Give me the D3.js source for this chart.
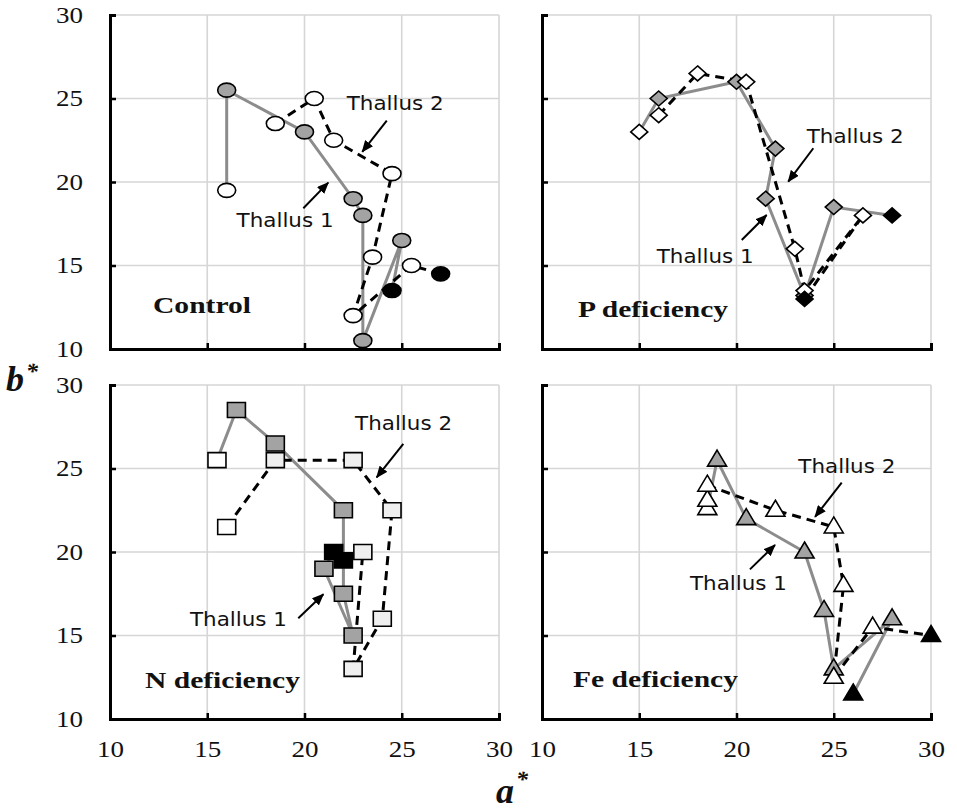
<!DOCTYPE html>
<html><head><meta charset="utf-8">
<script src="https://cdn.jsdelivr.net/npm/d3@7"></script>
<style>body{margin:0;background:#fff}</style></head>
<body><svg id="c" width="957" height="810"></svg>
<script>
// ---------- data ----------
const panelNames = ["Control", "P deficiency", "N deficiency", "Fe deficiency"];
const xTicks = [10, 15, 20, 25, 30];
const yTicks = [10, 15, 20, 25, 30];
const seriesNames = ["Thallus 1", "Thallus 2"];

const controlT1A = [16, 16, 20, 22.5, 23, 23, 25, 24.5];
const controlT1B = [19.5, 25.5, 23, 19, 18, 10.5, 16.5, 13.5];
const controlT2A = [18.5, 20.5, 21.5, 24.5, 23.5, 22.5, 25.5, 27];
const controlT2B = [23.5, 25, 22.5, 20.5, 15.5, 12, 15, 14.5];

const pT1A = [15, 16, 20, 22, 21.5, 23.5, 25, 28];
const pT1B = [23, 25, 26, 22, 19, 13.2, 18.5, 18];
const pT2A = [16, 18, 20.5, 23, 23.5, 26.5, 23.5];
const pT2B = [24, 26.5, 26, 16, 13.5, 18, 13];

const nT1A = [15.5, 16.5, 18.5, 22, 22, 22.5, 21, 21.5];
const nT1B = [25.5, 28.5, 26.5, 22.5, 17.5, 15, 19, 20];
const nT2A = [16, 18.5, 22.5, 24.5, 24, 22.5, 23, 22];
const nT2B = [21.5, 25.5, 25.5, 22.5, 16, 13, 20, 19.5];

const feT1A = [18.5, 19, 20.5, 23.5, 24.5, 25, 28, 26];
const feT1B = [22.6, 25.5, 22, 20, 16.5, 13, 16, 11.5];
const feT2A = [18.5, 18.5, 22, 25, 25.5, 25, 27, 30];
const feT2B = [23.1, 24, 22.5, 21.5, 18, 12.5, 15.5, 15];

// ---------- layout ----------
const W = 389, H = 334;
const layout = [
  {x0: 110, y0: 15, shape: "circle", yLab: true, xLab: false, t1: controlT1A, t1b: controlT1B, t2: controlT2A, t2b: controlT2B,
   lab: [43, 298, 98],
   ann: {t1: [16.51, 17.72], a1: [[19.94, 18.43], [21.22, 19.96]], t2: [22.17, 24.73], a2: [[24.23, 23.67], [22.97, 21.81]]}},
  {x0: 542, y0: 15, shape: "diamond", yLab: false, xLab: false, t1: pT1A, t1b: pT1B, t2: pT2A, t2b: pT2B,
   lab: [36, 302, 150],
   ann: {t1: [15.9, 15.57], a1: [[20.27, 16.53], [21.55, 18.02]], t2: [23.61, 22.75], a2: [[23.95, 22.02], [22.66, 20.02]]}},
  {x0: 110, y0: 385, shape: "square", yLab: true, xLab: true, t1: nT1A, t1b: nT1B, t2: nT2A, t2b: nT2B,
   lab: [35, 303, 155],
   ann: {t1: [14.11, 15.97], a1: [[19.68, 16.03], [20.97, 17.47]], t2: [22.6, 27.71], a2: [[25.08, 26.47], [23.71, 24.47]]}},
  {x0: 542, y0: 385, shape: "triangle", yLab: false, xLab: true, t1: feT1A, t1b: feT1B, t2: feT2A, t2b: feT2B,
   lab: [31, 302, 165],
   ann: {t1: [17.61, 18.13], a1: [[20.69, 18.96], [21.98, 20.42]], t2: [23.18, 25.15], a2: [[25.41, 24.15], [24.04, 22.11]]}}
];

const svg = d3.select("#c");
const defs = svg.append("defs");
defs.append("marker").attr("id", "ah").attr("markerUnits", "userSpaceOnUse")
  .attr("viewBox", "0 0 12 10").attr("refX", 11).attr("refY", 5)
  .attr("markerWidth", 12).attr("markerHeight", 10).attr("orient", "auto")
  .append("path").attr("d", "M0,0 L12,5 L0,10 Z").attr("fill", "#000");

function shapePath(s) {
  if (s === "circle") return "M-9,0 A9,7 0 1,0 9,0 A9,7 0 1,0 -9,0 Z";
  if (s === "diamond") return "M0,-7.5 L8.5,0 L0,7.5 L-8.5,0 Z";
  if (s === "square") return "M-9,-7.5 H9 V7.5 H-9 Z";
  return "M0,-10 L9.5,6 L-9.5,6 Z";
}

layout.forEach((p, pi) => {
  const g = svg.append("g").attr("transform", `translate(${p.x0},${p.y0})`);
  const x = d3.scaleLinear().domain([10, 30]).range([0, W]);
  const y = d3.scaleLinear().domain([10, 30]).range([H, 0]);

  // grid
  g.selectAll(".gx").data(xTicks.slice(1)).join("line")
    .attr("x1", d => x(d)).attr("x2", d => x(d)).attr("y1", 0).attr("y2", H)
    .attr("stroke", "#d6d6d6").attr("stroke-width", 1.6);
  g.selectAll(".gy").data(yTicks.slice(1)).join("line")
    .attr("x1", 0).attr("x2", W).attr("y1", d => y(d)).attr("y2", d => y(d))
    .attr("stroke", "#d6d6d6").attr("stroke-width", 1.6);

  // axes
  const ax = g.append("g").attr("transform", `translate(0,${H})`)
    .call(d3.axisBottom(x).tickValues(xTicks).tickSizeInner(-6).tickSizeOuter(-6).tickPadding(30)
      .tickFormat(p.xLab ? d3.format("d") : () => ""));
  const ay = g.append("g")
    .call(d3.axisLeft(y).tickValues(yTicks).tickSizeInner(-6).tickSizeOuter(-6).tickPadding(27)
      .tickFormat(p.yLab ? d3.format("d") : () => ""));
  [ax, ay].forEach(a => {
    a.select(".domain").attr("stroke", "#000").attr("stroke-width", 3);
    a.selectAll(".tick line").attr("stroke", "#000").attr("stroke-width", 2.5);
    a.selectAll("text").attr("font-family", "'Liberation Serif','Times New Roman',serif")
      .attr("font-size", 23).attr("fill", "#111")
      .attr("textLength", 27).attr("lengthAdjust", "spacingAndGlyphs");
  });
  ax.selectAll("text").attr("dy", "0").attr("y", 38);

  const line = d3.line().x(d => x(d[0])).y(d => y(d[1]));
  const s1 = p.t1.map((a, i) => [a, p.t1b[i]]);
  const s2 = p.t2.map((a, i) => [a, p.t2b[i]]);

  g.append("path").datum(s1).attr("d", line).attr("fill", "none")
    .attr("stroke", "#8c8c8c").attr("stroke-width", 3);
  g.append("path").datum(s2).attr("d", line).attr("fill", "none")
    .attr("stroke", "#000").attr("stroke-width", 3).attr("stroke-dasharray", "9,6");

  const pts = [];
  s1.forEach((d, i) => pts.push({d, stage: i === 0 ? "start" : (i === s1.length - 1 ? "end" : "mid"), ser: 1}));
  s2.forEach((d, i) => pts.push({d, stage: i === 0 ? "start" : (i === s2.length - 1 ? "end" : "mid"), ser: 2}));
  const order = {start: 0, mid: 1, end: 2};
  pts.sort((a, b) => order[a.stage] - order[b.stage]);
  const midFill2 = p.shape === "square" ? "#efefef" : "#fff";
  g.selectAll(".mk").data(pts).join("path")
    .attr("d", shapePath(p.shape))
    .attr("transform", q => `translate(${x(q.d[0])},${y(q.d[1])})`)
    .attr("fill", q => q.stage === "end" ? "#000" : (q.stage === "start" ? "#fff" : (q.ser === 1 ? "#a3a3a3" : midFill2)))
    .attr("stroke", "#000").attr("stroke-width", 1.6);

  // annotations
  const tf = "'DejaVu Sans','Noto Sans',sans-serif";
  [["t1", "a1", 0], ["t2", "a2", 1]].forEach(([tk, ak, si]) => {
    g.append("text").attr("x", x(p.ann[tk][0])).attr("y", y(p.ann[tk][1]))
      .attr("dy", "0.35em").attr("font-family", tf).attr("font-size", 19).attr("fill", "#111")
      .attr("textLength", 97).attr("lengthAdjust", "spacingAndGlyphs")
      .text(seriesNames[si]);
    const a = p.ann[ak];
    g.append("line").attr("x1", x(a[0][0])).attr("y1", y(a[0][1]))
      .attr("x2", x(a[1][0])).attr("y2", y(a[1][1]))
      .attr("stroke", "#000").attr("stroke-width", 2).attr("marker-end", "url(#ah)");
  });

  g.append("text").attr("x", p.lab[0]).attr("y", p.lab[1])
    .attr("font-family", "'Liberation Serif','Times New Roman',serif").attr("font-weight", "bold")
    .attr("font-size", 24).attr("fill", "#111")
    .attr("textLength", p.lab[2]).attr("lengthAdjust", "spacingAndGlyphs")
    .text(panelNames[pi]);
});

// axis titles
const bt = svg.append("text").attr("x", 6).attr("y", 391)
  .attr("font-family", "'Liberation Serif','Times New Roman',serif")
  .attr("font-weight", "bold").attr("font-style", "italic").attr("font-size", 36).attr("fill", "#111");
bt.append("tspan").text("b");
bt.append("tspan").attr("font-size", 24).attr("dy", -12).attr("dx", 2).text("*");
const at = svg.append("text").attr("x", 496).attr("y", 803)
  .attr("font-family", "'Liberation Serif','Times New Roman',serif")
  .attr("font-weight", "bold").attr("font-style", "italic").attr("font-size", 36).attr("fill", "#111");
at.append("tspan").text("a");
at.append("tspan").attr("font-size", 24).attr("dy", -16).attr("dx", 2).text("*");
</script></body></html>
